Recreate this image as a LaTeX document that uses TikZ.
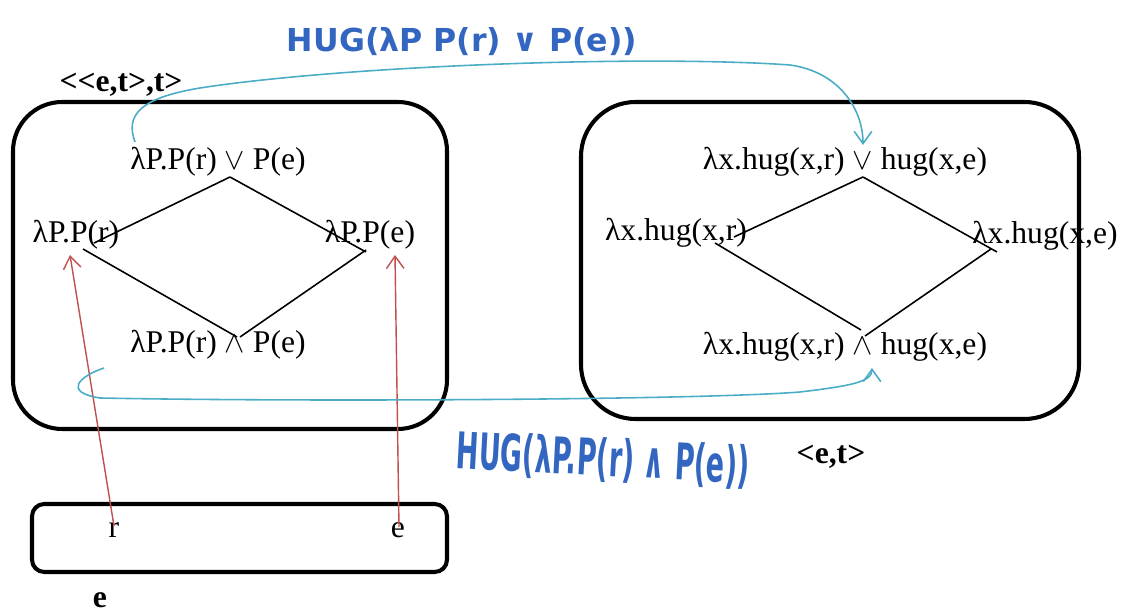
\documentclass[tikz,border=0pt]{standalone}
\usepackage{fontspec}
\setmainfont{Liberation Serif}
\newfontfamily\handfont{DejaVu Sans}
\usetikzlibrary{arrows.meta}
\definecolor{hugblue}{HTML}{3366C0}
\definecolor{hugteal}{HTML}{4BACC6}
\definecolor{mapred}{HTML}{C0504D}

\begin{document}
\begin{tikzpicture}[x=0.02cm,y=-0.02cm]
\tikzset{t/.style={inner sep=0pt,font=\fontsize{18}{21}\selectfont},
  ty/.style={inner sep=0pt,font=\fontsize{18}{21}\selectfont\bfseries},
  hw/.style={inner sep=0pt,text=hugblue,font=\handfont\bfseries\fontsize{18}{22}\selectfont},
  frame/.style={line width=2.3pt},
  edge/.style={line width=0.9pt},
  map/.style={mapred,line width=0.8pt,-{Straight Barb[length=7pt,width=10pt]}},
  lift/.style={hugteal,line width=0.9pt,-{Straight Barb[length=7pt,width=10pt]}}}
\useasboundingbox (0,0) rectangle (1123,614);

% frames
\draw[frame,rounded corners=28pt] (13,102) rectangle (447,429);
\draw[frame,rounded corners=31pt] (581,102) rectangle (1079,419);
\draw[frame,rounded corners=7pt] (32,504) rectangle (447,572);

% types
\path (121,85) node[ty] (gq) {<{}<e,t>,t>};
\path (831,457) node[ty] (et) {<e,t>};
\path (100,600) node[ty] (ee) {e};

% left lattice
\path (218,162) node[t] (lt) {λP.P(r) $\vee$ P(e)};
\path (76,235) node[t] (ll) {λP.P(r)};
\path (370,235) node[t] (lr) {λP.P(e)};
\path (218,345) node[t] (lb) {λP.P(r) $\wedge$ P(e)};

\draw[edge] ([shift={(12,15)}]lt.center) -- ([shift={(18,8)}]ll.center);
\draw[edge] ([shift={(12,15)}]lt.center) -- ([shift={(-4,17)}]lr.center);
\draw[edge] ([shift={(7,14)}]ll.center) -- ([shift={(19,-8)}]lb.center);
\draw[edge] ([shift={(22,-8)}]lb.center) -- ([shift={(-4,15)}]lr.center);

% right lattice
\path (845,162) node[t] (rt) {λx.hug(x,r) $\vee$ hug(x,e)};
\path (676,233) node[t] (rl) {λx.hug(x,r)};
\path (1045,236) node[t] (rr) {λx.hug(x,e)};
\path (845,347) node[t] (rb) {λx.hug(x,r) $\wedge$ hug(x,e)};

\draw[edge] ([shift={(18,15)}]rt.center) -- ([shift={(58,4)}]rl.center);
\draw[edge] ([shift={(18,15)}]rt.center) -- ([shift={(-48,16)}]rr.center);
\draw[edge] ([shift={(39,10)}]rl.center) -- ([shift={(16,-17)}]rb.center);
\draw[edge] ([shift={(20,-11)}]rb.center) -- ([shift={(-54,13)}]rr.center);

% individuals
\path (114,530) node[t] (r) {r};
\path (398,530) node[t] (e) {e};
\draw[map] ([shift={(0,-4)}]r.center) -- ([shift={(-6,20)}]ll.center);
\draw[map] ([shift={(1,-3)}]e.center) -- ([shift={(25,20)}]lr.center);

% lifting
\path (462,42) node[hw] (hugor) {HUG(λP P(r) ∨ P(e))};
\path (603,460) node[hw,rotate=-3,yscale=1.6,xscale=0.85,transform shape] (hugand) {HUG(λP.P(r) ∧ P(e))};
\draw[lift] ([shift={(-83,-20)}]lt.center) .. controls (125,115) and (140,98) .. (200,88)
  .. controls (350,65) and (650,55) .. (790,65)
  .. controls (840,72) and (863,110) .. ([shift={(18,-17)}]rt.center);
\draw[lift] ([shift={(-114,23)}]lb.center) .. controls (80,376) and (62,392) .. (100,398)
  .. controls (300,402) and (700,400) .. (800,392)
  .. controls (850,386) and (872,382) .. ([shift={(27,21)}]rb.center);
\end{tikzpicture}
\end{document}
